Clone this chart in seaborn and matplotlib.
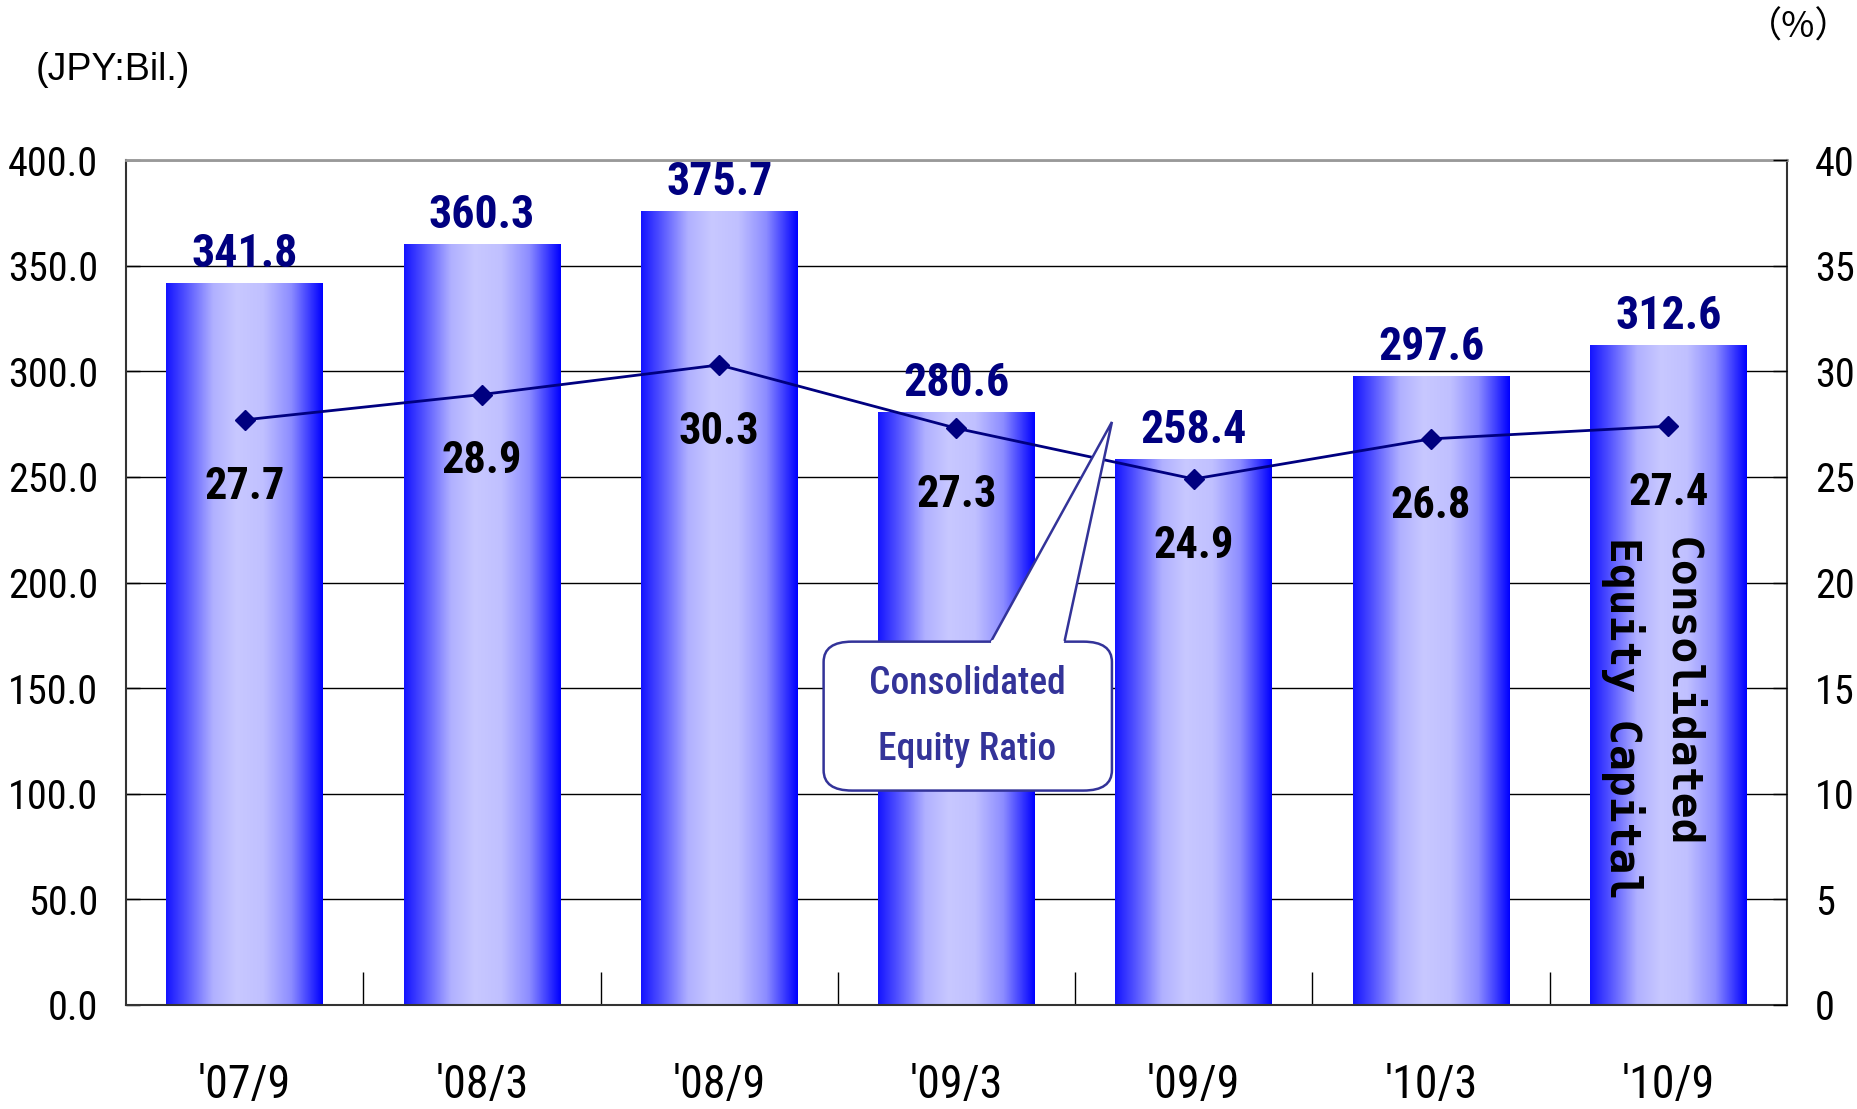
import numpy as np
import pandas as pd
import seaborn as sns
import matplotlib as mpl
import matplotlib.pyplot as plt
from matplotlib.colors import LinearSegmentedColormap
from matplotlib.patches import FancyBboxPatch, Polygon

periods = ["'07/9", "'08/3", "'08/9", "'09/3", "'09/9", "'10/3", "'10/9"]
equity_capital = [341.8, 360.3, 375.7, 280.6, 258.4, 297.6, 312.6]
equity_ratio = [27.7, 28.9, 30.3, 27.3, 24.9, 26.8, 27.4]

df = pd.DataFrame({"period": periods, "capital": equity_capital, "ratio": equity_ratio})

sns.set_style("white")
plt.rcParams['font.family'] = ['Roboto Condensed', 'DejaVu Sans']
plt.rcParams['text.color'] = 'black'
plt.rcParams['xtick.color'] = 'black'
plt.rcParams['ytick.color'] = 'black'

fig = plt.figure(figsize=(18.58, 11.09), dpi=100)
ax = fig.add_axes([0.0678, 0.0938, 0.894, 0.7619])

sns.barplot(data=df, x="period", y="capital", width=0.66, color="blue", ax=ax, zorder=2)

# gradient fill for the bars
grad = LinearSegmentedColormap.from_list("bar", [
    (0.0, "#1414ff"), (0.12, "#5050ff"), (0.3, "#b0b0ff"), (0.45, "#c8c8ff"),
    (0.62, "#c0c0ff"), (0.8, "#8c8cff"), (1.0, "#0000ff")])
g = np.linspace(0, 1, 256).reshape(1, -1)
for p in ax.patches:
    x0, y0 = p.get_x(), p.get_y()
    w, h = p.get_width(), p.get_height()
    p.set_facecolor("none")
    p.set_edgecolor("none")
    im = ax.imshow(g, cmap=grad, aspect="auto", extent=[x0, x0 + w, y0, y0 + h],
                   zorder=2, interpolation="bilinear")
    im.set_clip_path(p)

ax.set_xlim(-0.5, len(periods) - 0.5)
ax.set_ylim(0, 400)
ax.set_yticks(np.arange(0, 401, 50))
ax.set_yticklabels([f"{v:.1f}" for v in np.arange(0, 401, 50)], fontsize=29)
ax.yaxis.grid(True, color="black", linewidth=1, zorder=0)
ax.set_axisbelow(True)
ax.set_xlabel("")
ax.set_ylabel("")
ax.tick_params(axis="x", length=0, labelsize=33, pad=42)
ax.tick_params(axis="y", direction="in", length=10, width=1, pad=20, left=True)
ax.set_xticks(np.arange(0.5, len(periods) - 1, 1), minor=True)
ax.tick_params(axis="x", which="minor", direction="in", length=24, width=1, bottom=True)
for s in ["left", "bottom", "right"]:
    ax.spines[s].set_color("#333333")
    ax.spines[s].set_linewidth(1.5)
ax.spines["top"].set_color("#999999")
ax.spines["top"].set_linewidth(2)

for i, v in enumerate(equity_capital):
    ax.annotate(f"{v:.1f}", (i, v), xytext=(0, 5), textcoords="offset points",
                ha="center", va="bottom", fontsize=33, fontweight="bold", color="#000080")

ax.text(5.93, 136, "Consolidated\nEquity Capital", rotation=-90, ha="center", va="center",
        multialignment="left", fontsize=31, fontweight="bold", linespacing=1.45,
        family=["DejaVu Sans Mono"], zorder=8)

# equity ratio line on the right axis
ax2 = ax.twinx()
ax2.set_ylim(0, 40)
ax2.plot(range(len(periods)), equity_ratio, color="#000080", linewidth=2,
         marker="D", markersize=10, zorder=5)
ax2.set_yticks(np.arange(0, 41, 5))
ax2.set_yticklabels([str(v) for v in range(0, 41, 5)], fontsize=29)
ax2.tick_params(axis="y", direction="in", length=10, width=1, pad=20, right=True)
for s in ax2.spines.values():
    s.set_visible(False)
for i, v in enumerate(equity_ratio):
    ax2.annotate(f"{v:.1f}", (i, v), xytext=(0, -48), textcoords="offset points",
                 ha="center", va="center", fontsize=32, fontweight="bold", color="black")

# callout for the ratio line
cc = "#333399"
box = FancyBboxPatch((2.44, 10.15), 1.215, 7.05, boxstyle="round,pad=0,rounding_size=0.12",
                     mutation_aspect=8, facecolor="white", edgecolor=cc, linewidth=1.8,
                     zorder=6)
ax2.add_patch(box)
tail = Polygon([(3.145, 17.2), (3.655, 27.6), (3.455, 17.2)], closed=False,
               facecolor="white", edgecolor=cc, linewidth=1.8, zorder=7)
ax2.add_patch(tail)
ax2.plot([3.155, 3.445], [17.2, 17.2], color="white", linewidth=3, zorder=7)
ax2.text(3.045, 15.2, "Consolidated", ha="center", va="center", fontsize=27,
         fontweight="medium", color=cc, zorder=8)
ax2.text(3.045, 12.1, "Equity Ratio", ha="center", va="center", fontsize=27,
         fontweight="medium", color=cc, zorder=8)

fig.text(0.019, 0.937, "(JPY:Bil.)", fontsize=27, family=["Liberation Sans"], va="center")
fig.text(0.968, 0.975, "（%）", fontsize=26, family=["Noto Sans CJK JP", "DejaVu Sans"],
         va="center", ha="center")

fig.savefig("out.png", dpi=100)
